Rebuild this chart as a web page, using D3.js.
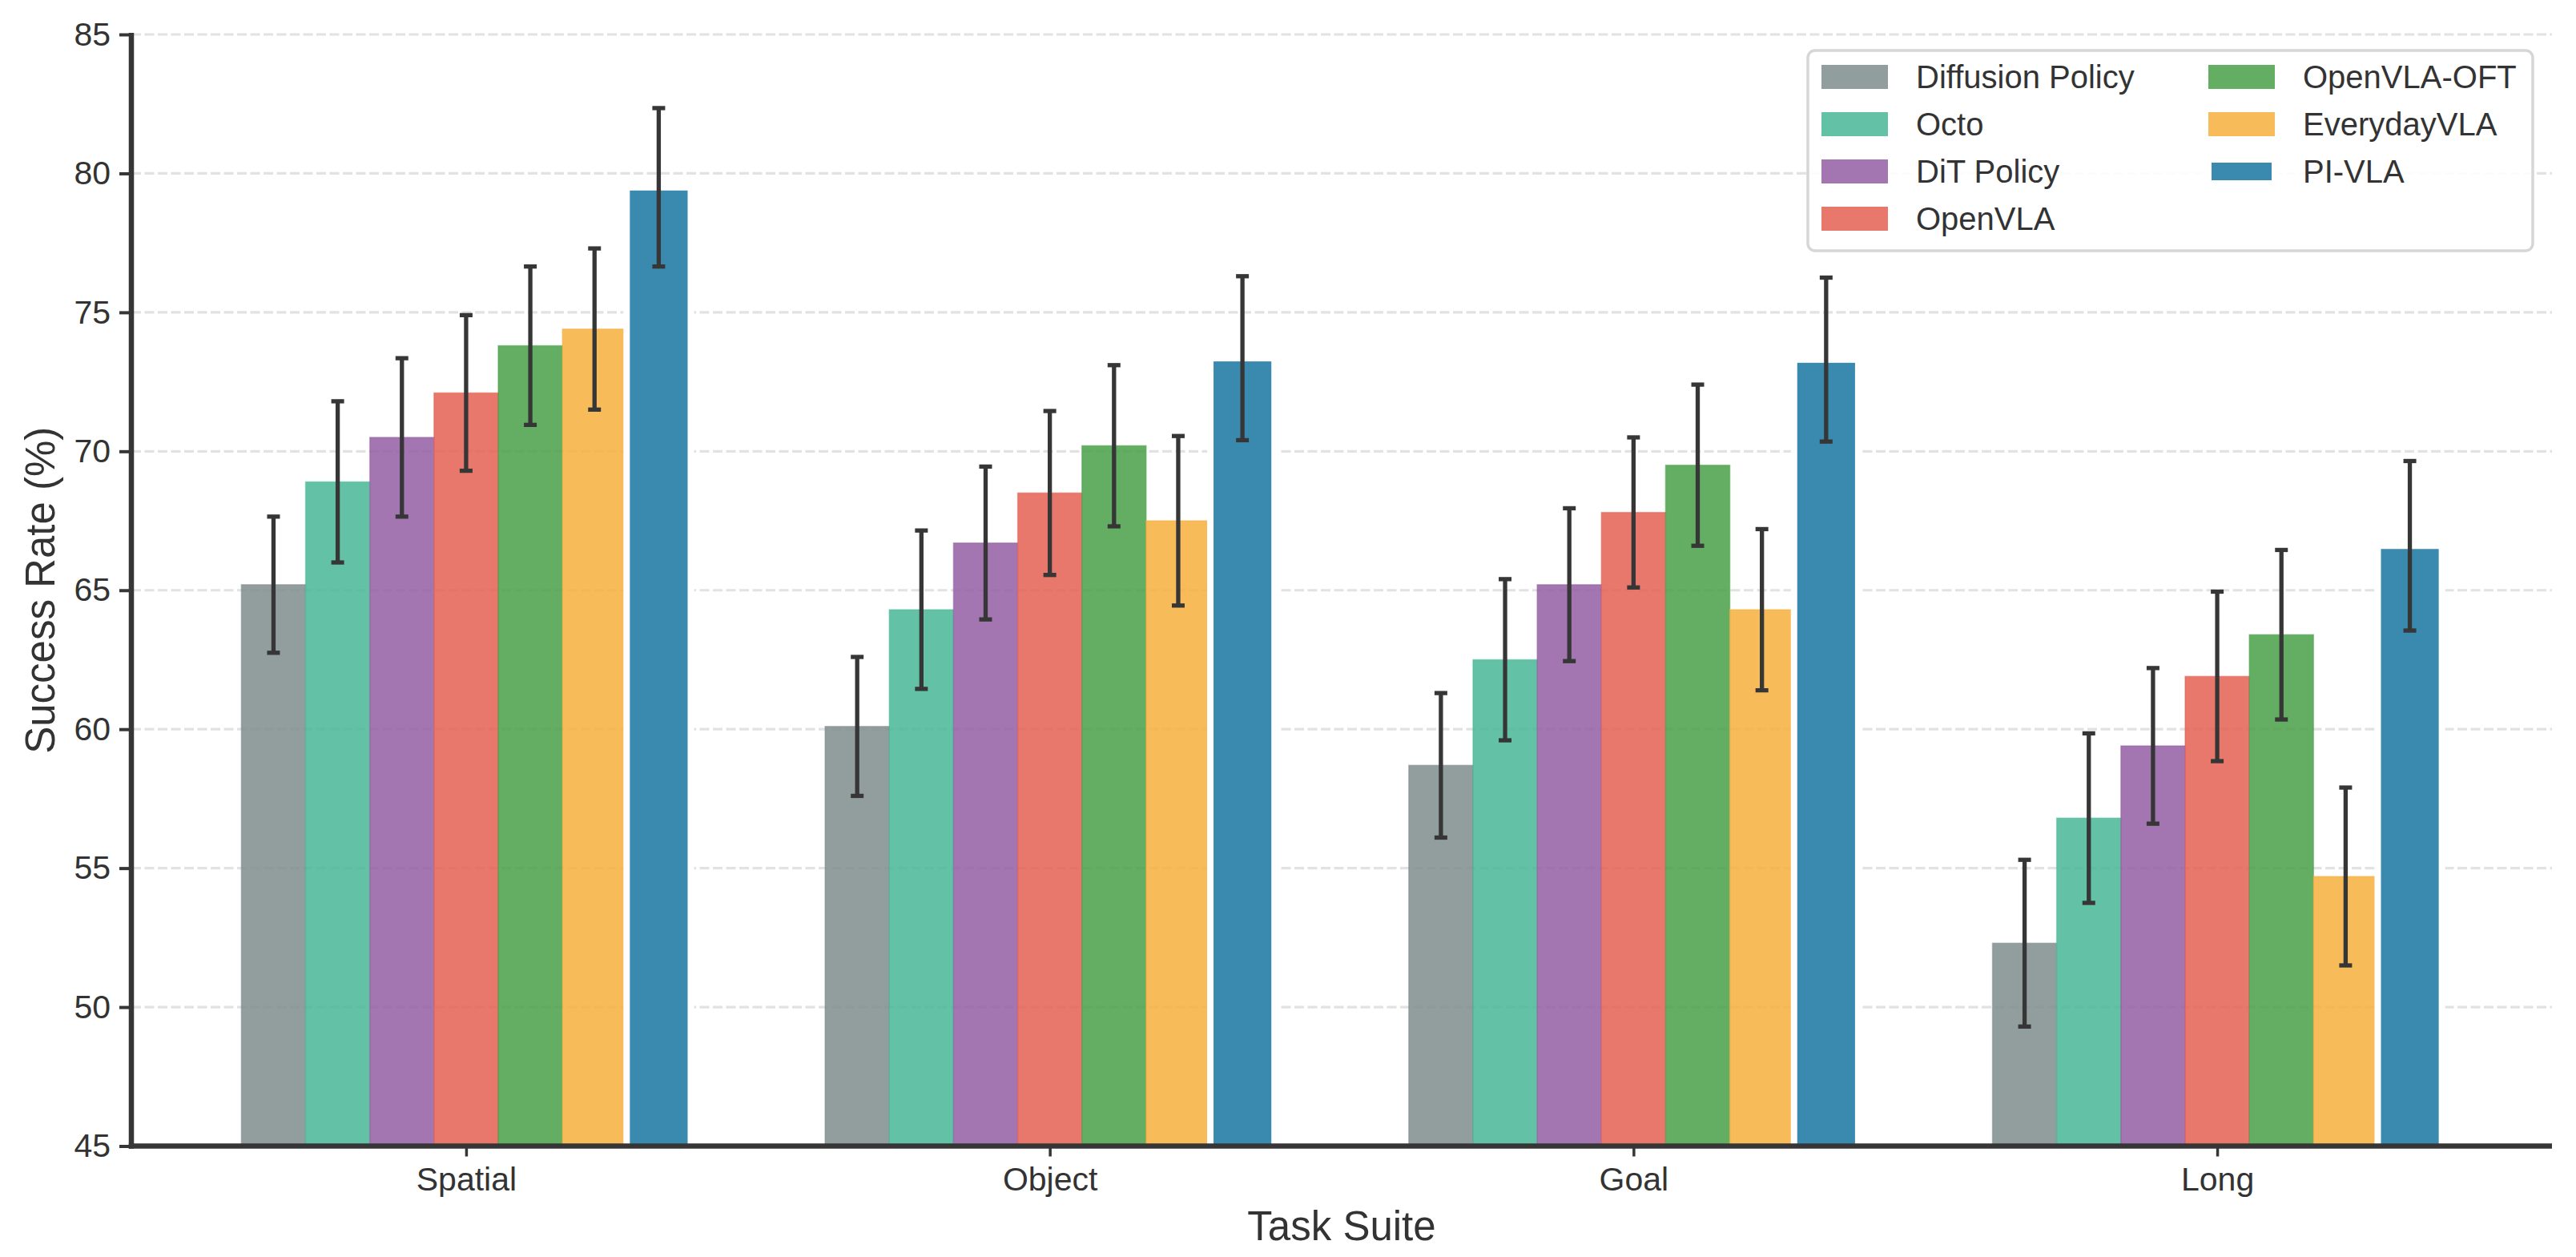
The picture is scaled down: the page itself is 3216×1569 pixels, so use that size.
<!DOCTYPE html>
<html>
<head>
<meta charset="utf-8">
<script src="https://cdn.jsdelivr.net/npm/d3@7"></script>
<style>
  body { margin: 0; background: #fff; }
  text { font-family: "Liberation Sans", Arial, Helvetica, sans-serif; fill: #333; }
</style>
</head>
<body>
<div id="chart"></div>
<script>
// task suites on the x axis, methods as grouped bars
var suites = ["Spatial", "Object", "Goal", "Long"];
var methods = ["Diffusion Policy", "Octo", "DiT Policy", "OpenVLA", "OpenVLA-OFT", "EverydayVLA", "PI-VLA"];
var colors = ["#7f8c8d", "#48b796", "#945ea3", "#e45f52", "#49a049", "#f6af3c", "#3a8ab0"];

// success rate (%) per method, in suite order
var means = [
  [65.2, 60.1, 58.7, 52.3],
  [68.9, 64.3, 62.5, 56.8],
  [70.5, 66.7, 65.2, 59.4],
  [72.1, 68.5, 67.8, 61.9],
  [73.8, 70.2, 69.5, 63.4],
  [74.4, 67.5, 64.3, 54.7],
  [79.5, 73.35, 73.3, 66.6]
];
// error bar half-length
var errs = [
  [2.45, 2.5, 2.6, 3.0],
  [2.9, 2.85, 2.9, 3.05],
  [2.85, 2.75, 2.75, 2.8],
  [2.8, 2.95, 2.7, 3.05],
  [2.85, 2.9, 2.9, 3.05],
  [2.9, 3.05, 2.9, 3.2],
  [2.85, 2.95, 2.95, 3.05]
];
var yTicks = [45, 50, 55, 60, 65, 70, 75, 80, 85];

var render = function() {
  let W = 3216, H = 1569;
  let left = 164, right = 3186, top = 43, bottom = 1430.5;
  let barW = 0.11;

  d3.select("#chart").html("");

  let svg = d3.select("#chart")
    .append("svg")
    .attr("width", W)
    .attr("height", H);

  let x = d3.scaleLinear()
    .domain([-0.5735, 3.5735])
    .range([left, right]);

  let y = d3.scaleLinear()
    .domain([45, 85])
    .range([bottom, top]);

  // grid
  svg.append("g")
    .selectAll("line")
    .data(yTicks)
    .enter()
    .append("line")
    .attr("x1", left).attr("x2", right)
    .attr("y1", d => y(d)).attr("y2", d => y(d))
    .attr("stroke", "#e2e2e2")
    .attr("stroke-width", 3.2)
    .attr("stroke-dasharray", "12,4.5");

  let rows = [];
  methods.forEach(function(m, j) {
    suites.forEach(function(s, i) {
      rows.push({ m: j, s: i, v: means[j][i], e: errs[j][i] });
    });
  });

  let bw = x(barW) - x(0);

  // PI-VLA bar gets a white edge; push its bottom under the spine
  svg.append("g")
    .selectAll("rect")
    .data(rows)
    .enter()
    .append("rect")
    .attr("x", d => x(d.s + (d.m - 3) * barW) - bw / 2)
    .attr("width", bw)
    .attr("y", d => y(d.v))
    .attr("height", d => y(45) - y(d.v) + (d.m == 6 ? 4 : 0))
    .attr("fill", d => colors[d.m])
    .attr("fill-opacity", d => d.m == 6 ? 1 : 0.85)
    .attr("stroke", d => d.m == 6 ? "#fff" : colors[d.m])
    .attr("stroke-opacity", d => d.m == 6 ? 1 : 0.5)
    .attr("stroke-width", d => d.m == 6 ? 8 : 1.5);

  // error bars
  let eb = svg.append("g")
    .selectAll("g")
    .data(rows)
    .enter()
    .append("g")
    .attr("stroke", "#363636")
    .attr("stroke-width", 5.3);

  eb.append("line")
    .attr("x1", d => x(d.s + (d.m - 3) * barW))
    .attr("x2", d => x(d.s + (d.m - 3) * barW))
    .attr("y1", d => y(d.v - d.e))
    .attr("y2", d => y(d.v + d.e));
  [-1, 1].forEach(function(sg) {
    eb.append("line")
      .attr("x1", d => x(d.s + (d.m - 3) * barW) - 8)
      .attr("x2", d => x(d.s + (d.m - 3) * barW) + 8)
      .attr("y1", d => y(d.v + sg * d.e))
      .attr("y2", d => y(d.v + sg * d.e));
  });

  // y axis
  let yAxis = svg.append("g")
    .attr("transform", "translate(" + left + ",0)")
    .call(d3.axisLeft(y).tickValues(yTicks).tickSize(15).tickPadding(11));
  yAxis.select(".domain").remove();
  yAxis.selectAll(".tick line").attr("stroke", "#363636").attr("stroke-width", 4);
  yAxis.selectAll(".tick text")
    .attr("font-size", 41)
    .attr("font-family", "Liberation Sans, Arial, sans-serif")
    .attr("fill", "#333");

  // x axis
  let xAxis = svg.append("g")
    .attr("transform", "translate(0," + bottom + ")")
    .call(d3.axisBottom(x).tickValues([0, 1, 2, 3]).tickFormat(i => suites[i]).tickSize(13).tickPadding(13));
  xAxis.select(".domain").remove();
  xAxis.selectAll(".tick line").attr("stroke", "#363636").attr("stroke-width", 3.5);
  xAxis.selectAll(".tick text")
    .attr("font-size", 41)
    .attr("font-family", "Liberation Sans, Arial, sans-serif")
    .attr("fill", "#333");

  // spines
  svg.append("line")
    .attr("x1", left).attr("x2", left)
    .attr("y1", top - 2).attr("y2", bottom + 3.2)
    .attr("stroke", "#363636").attr("stroke-width", 6.5);
  svg.append("line")
    .attr("x1", left - 3.2).attr("x2", right)
    .attr("y1", bottom).attr("y2", bottom)
    .attr("stroke", "#363636").attr("stroke-width", 6.5);

  // axis titles
  svg.append("text")
    .attr("x", (left + right) / 2)
    .attr("y", 1548)
    .attr("text-anchor", "middle")
    .attr("font-size", 51)
    .text("Task Suite");

  svg.append("text")
    .attr("transform", "translate(68," + ((top + bottom) / 2) + ") rotate(-90)")
    .attr("text-anchor", "middle")
    .attr("font-size", 51)
    .text("Success Rate (%)");

  // legend
  let lg = svg.append("g");
  lg.append("rect")
    .attr("x", 2257).attr("y", 63)
    .attr("width", 905).attr("height", 250)
    .attr("rx", 9)
    .attr("fill", "#fff")
    .attr("fill-opacity", 0.9)
    .attr("stroke", "#d6d6d6")
    .attr("stroke-width", 3.5);

  let items = lg.selectAll("g.item")
    .data(methods)
    .enter()
    .append("g")
    .attr("transform", (d, j) => "translate(" + (j < 4 ? 2274 : 2757) + "," + (81 + 59 * (j % 4)) + ")");

  items.append("rect")
    .attr("width", 83)
    .attr("height", 30)
    .attr("fill", (d, j) => colors[j])
    .attr("fill-opacity", (d, j) => j == 6 ? 1 : 0.85)
    .attr("stroke", (d, j) => j == 6 ? "#fff" : "none")
    .attr("stroke-width", 8);

  items.append("text")
    .attr("x", 118)
    .attr("y", 29)
    .attr("font-size", 40)
    .text(d => d);
};

render();
</script>
</body>
</html>
